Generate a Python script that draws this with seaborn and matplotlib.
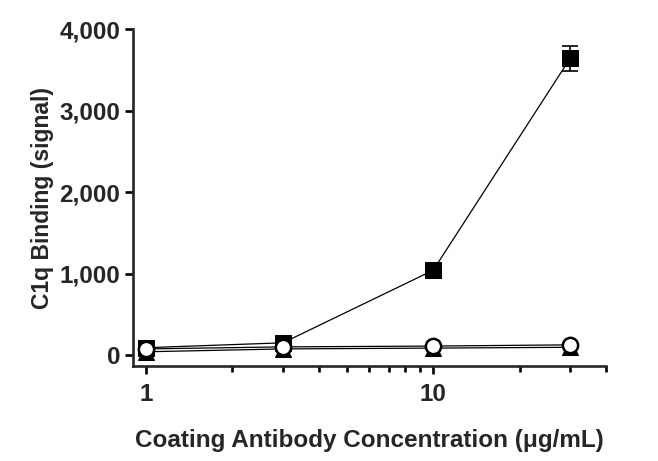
import matplotlib
matplotlib.use("Agg")
import matplotlib.pyplot as plt
import matplotlib.ticker as mticker
import seaborn as sns
import pandas as pd
import numpy as np

conc = [1, 3, 10, 30]
square_vals = [90, 150, 1040, 3640]
square_err = [20, 30, 40, 150]
circle_vals = [75, 100, 110, 125]
triangle_vals = [40, 75, 85, 95]

sns.set_style("ticks")
plt.rcParams['font.family'] = ['Liberation Sans', 'DejaVu Sans']
plt.rcParams['font.weight'] = 'bold'

fig = plt.figure(figsize=(6.58, 4.61), dpi=100)
ax = fig.add_axes([0.202, 0.206, 0.719, 0.731])

df_sq = pd.DataFrame({"x": conc, "y": square_vals})
df_ci = pd.DataFrame({"x": conc, "y": circle_vals})
df_tr = pd.DataFrame({"x": conc, "y": triangle_vals})

ax.errorbar(conc, square_vals, yerr=square_err, fmt='none', ecolor='black',
            elinewidth=1.2, capsize=6, capthick=1.2, zorder=2)
sns.lineplot(data=df_sq, x="x", y="y", ax=ax, color="black", linewidth=0.9,
             marker="s", markersize=11, markerfacecolor="black",
             markeredgecolor="black", zorder=3)
sns.lineplot(data=df_tr, x="x", y="y", ax=ax, color="black", linewidth=0.9,
             marker="^", markersize=12, markerfacecolor="black",
             markeredgecolor="black", zorder=4)
sns.lineplot(data=df_ci, x="x", y="y", ax=ax, color="black", linewidth=0.9,
             marker="o", markersize=11, markerfacecolor="white",
             markeredgecolor="black", markeredgewidth=1.8, zorder=5)

ax.set_xscale("log")
ax.set_xlim(0.9, 40)
ax.set_ylim(-135, 4000)
ax.set_xticks([1, 10])
ax.xaxis.set_major_formatter(mticker.FuncFormatter(lambda v, p: f"{v:g}"))
ax.xaxis.set_minor_locator(mticker.FixedLocator([2, 3, 4, 5, 6, 7, 8, 9, 20, 30, 40]))
ax.xaxis.set_minor_formatter(mticker.NullFormatter())
ax.set_yticks([0, 1000, 2000, 3000, 4000])
ax.yaxis.set_major_formatter(mticker.FuncFormatter(lambda v, p: f"{int(v):,}"))

for s in ["top", "right"]:
    ax.spines[s].set_visible(False)
for s in ["left", "bottom"]:
    ax.spines[s].set_linewidth(1.9)

ax.tick_params(axis="both", which="major", length=6, width=1.9, labelsize=17.5, color="black")
ax.tick_params(axis="x", which="minor", length=4, width=1.9, color="black")
ax.tick_params(axis="y", pad=3)
ax.tick_params(axis="x", pad=6)
for lbl in ax.get_xticklabels() + ax.get_yticklabels():
    lbl.set_fontweight("bold")

ax.set_xlabel("Coating Antibody Concentration (\u03bcg/mL)", fontsize=17.5, fontweight="bold", labelpad=17)
ax.set_ylabel("C1q Binding (signal)", fontsize=16.5, fontweight="bold", labelpad=4)
if ax.get_legend():
    ax.get_legend().remove()

fig.savefig("out.png", dpi=100)
